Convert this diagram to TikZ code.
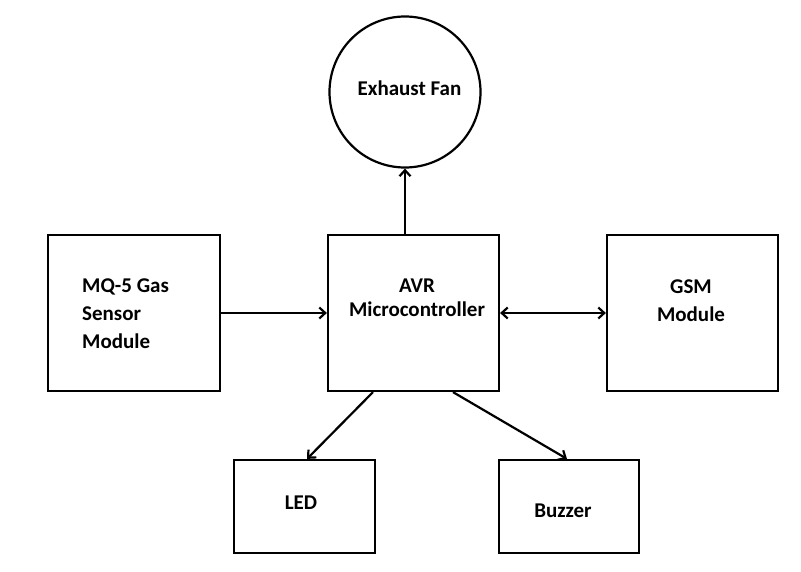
\documentclass[tikz,border=0pt]{standalone}
\usepackage{fontspec}
\setmainfont{Carlito}
\usetikzlibrary{arrows.meta}
\tikzset{
  blk/.style={draw, line width=2.2pt, rectangle, inner sep=0pt},
  fanshape/.style={draw, line width=2.2pt, circle, inner sep=0pt},
  txt/.style={font=\fontsize{21}{28}\selectfont\bfseries, inner sep=0pt},
  arr/.style={line width=2.2pt, -{Straight Barb[length=6pt,width=11pt,line width=2.2pt]}},
  biarr/.style={line width=2.2pt, {Straight Barb[length=6pt,width=11pt,line width=2.2pt]}-{Straight Barb[length=6pt,width=11pt,line width=2.2pt]}}
}
\begin{document}
\begin{tikzpicture}[x=1pt,y=-1pt]
\useasboundingbox[fill=white] (0,0) rectangle (801,572);
% shapes
\node[fanshape, minimum size=151pt] (fan) at (405,92) {};
\node[blk, minimum width=172pt, minimum height=156pt] (mq) at (134,313) {};
\node[blk, minimum width=171pt, minimum height=156pt] (avr) at (413.5,313) {};
\node[blk, minimum width=171pt, minimum height=156pt] (gsm) at (692.5,313) {};
\node[blk, minimum width=141pt, minimum height=93pt] (led) at (304.5,506.5) {};
\node[blk, minimum width=140pt, minimum height=93pt] (buz) at (569,506.5) {};
% texts
\node[txt] (fantext) at (409.5,88) {Exhaust Fan};
\node[txt, align=left, anchor=west] (mqtext) at (82,314) {MQ-5 Gas\\Sensor\\Module};
\node[txt, align=center, font=\fontsize{21}{24}\selectfont\bfseries] (avrtext) at (417,298) {AVR\\Microcontroller};
\node[txt, align=center] (gsmtext) at (691,300.5) {GSM\\Module};
\node[txt] (ledtext) at (301,503) {LED};
\node[txt] (buztext) at (563,511) {Buzzer};
% connectors
\draw[arr] (fan.south |- avr.north) -- (fan.south);
\draw[arr] (mq.east) -- (avr.west);
\draw[biarr] (avr.east) -- (gsm.west);
\draw[arr] ([xshift=-40.5pt]avr.south) -- ([xshift=2.5pt]led.north);
\draw[arr] ([xshift=39.5pt]avr.south) -- ([xshift=-2pt]buz.north);
\end{tikzpicture}
\end{document}
